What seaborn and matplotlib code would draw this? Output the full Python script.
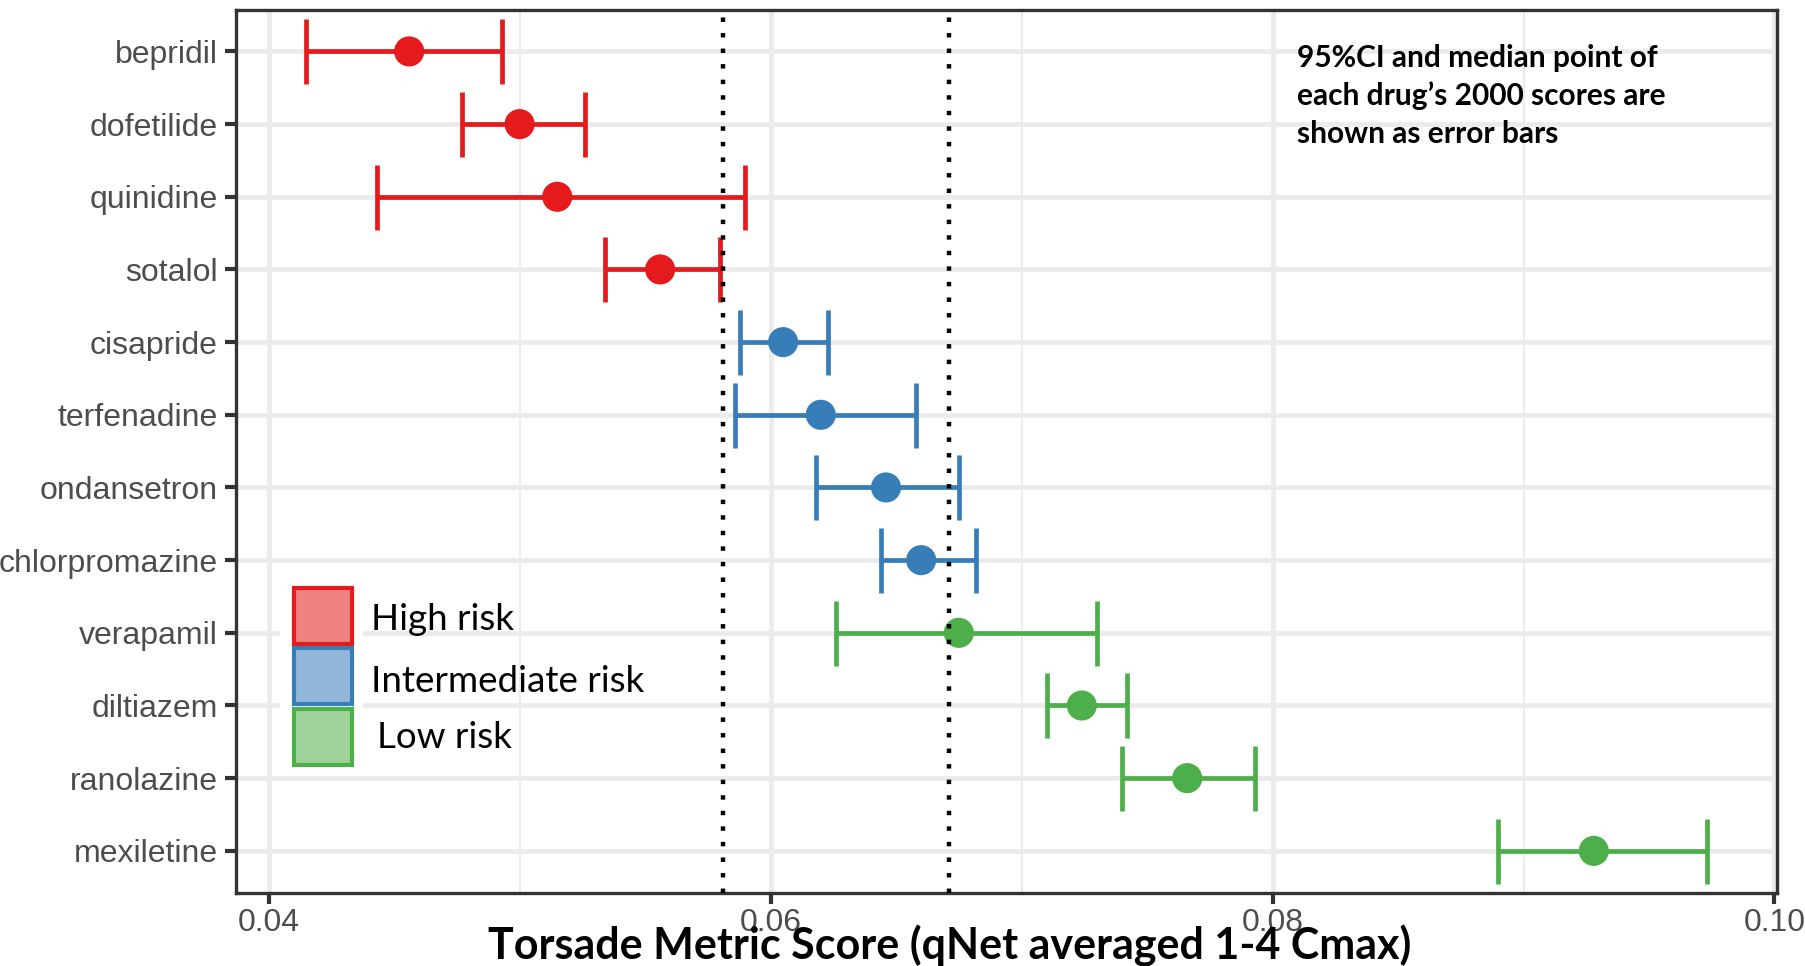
import numpy as np
import pandas as pd
import matplotlib
matplotlib.use("Agg")
import matplotlib.pyplot as plt
import seaborn as sns
from matplotlib.patches import Rectangle

# Data
drugs = ["bepridil", "dofetilide", "quinidine", "sotalol", "cisapride", "terfenadine",
         "ondansetron", "chlorpromazine", "verapamil", "diltiazem", "ranolazine", "mexiletine"]
risk = ["High"] * 4 + ["Intermediate"] * 4 + ["Low"] * 4
median = [0.0456, 0.0500, 0.0515, 0.0556, 0.0605, 0.0620, 0.0646, 0.0660, 0.0675, 0.0724, 0.0766, 0.0928]
ci_low = [0.0415, 0.0477, 0.0443, 0.0534, 0.0588, 0.0586, 0.0618, 0.0644, 0.0626, 0.0710, 0.0740, 0.0890]
ci_high = [0.0493, 0.0526, 0.0590, 0.0580, 0.0623, 0.0658, 0.0675, 0.0682, 0.0730, 0.0742, 0.0793, 0.0973]
thresholds = [0.0581, 0.0671]
x_ticks = [0.04, 0.06, 0.08, 0.10]
x_minor = [0.05, 0.07, 0.09]
risk_levels = ["High", "Intermediate", "Low"]
legend_labels = ["High risk", "Intermediate risk", "Low risk"]
risk_colors = {"High": "#E41A1C", "Intermediate": "#377EB8", "Low": "#4DAF4A"}
note_lines = ["95%CI and median point of", "each drug\u2019s 2000 scores are", "shown as error bars"]
xlabel = "Torsade Metric Score (qNet averaged 1-4 Cmax)"

df = pd.DataFrame({"drug": drugs, "risk": risk, "median": median,
                   "lo": ci_low, "hi": ci_high})
df["pos"] = np.arange(len(df))

sns.set_theme(style="white")
plt.rcParams["font.family"] = ["Liberation Sans", "DejaVu Sans"]

W, H = 1805, 966
def fx(x):
    return x / W
def fy(y):
    return 1 - y / H

fig = plt.figure(figsize=(W / 100, H / 100), dpi=100)
ax = fig.add_axes([fx(236), fy(893), fx(1777) - fx(236), fy(10) - fy(893)])

# error bars per risk group
for lvl in risk_levels:
    sub = df[df["risk"] == lvl]
    ax.errorbar(x=sub["median"], y=sub["pos"],
                xerr=[sub["median"] - sub["lo"], sub["hi"] - sub["median"]],
                fmt="none", ecolor=risk_colors[lvl], elinewidth=3.4,
                capsize=23.4, capthick=3.4, zorder=3)

sns.scatterplot(data=df, x="median", y="pos", hue="risk", palette=risk_colors,
                s=470, edgecolor="none", legend=False, zorder=4, ax=ax)

for t in thresholds:
    ax.axvline(t, color="black", lw=3.2, linestyle=(0, (1, 2.5)),
               dash_capstyle="butt", zorder=6)

# axes styling (ggplot theme_bw look)
ax.set_xlim(0.0387, 0.1001)
ax.set_ylim(len(drugs) - 1 + 0.58, -0.57)
ax.set_xticks(x_ticks)
ax.set_xticklabels([f"{v:.2f}" for v in x_ticks])
ax.set_xticks(x_minor, minor=True)
ax.set_yticks(df["pos"])
ax.set_yticklabels(drugs)
ax.set_xlabel("")
ax.set_ylabel("")
ax.set_axisbelow(True)
ax.grid(which="major", color="#EBEBEB", lw=3.4)
ax.grid(which="minor", axis="x", color="#EBEBEB", lw=1.3)
ax.tick_params(axis="both", which="major", length=8, width=3, color="#333333",
               labelcolor="#4D4D4D", labelsize=23, left=True, bottom=True)
ax.tick_params(axis="y", pad=5)
ax.tick_params(axis="x", pad=3)
ax.tick_params(which="minor", length=0)
for sp in ax.spines.values():
    sp.set_color("#333333")
    sp.set_linewidth(2.4)

# hand-made legend
fig.add_artist(Rectangle((fx(280), fy(772)), fx(363) - fx(280), fy(572) - fy(772),
                         transform=fig.transFigure, facecolor="white",
                         edgecolor="none", zorder=7))
box_tops = [588, 648, 709]
text_y = [620, 682, 737]
text_x = [371, 371, 377]
for lvl, lab, top, ty, tx in zip(risk_levels, legend_labels, box_tops, text_y, text_x):
    fig.add_artist(Rectangle((fx(294), fy(top + 56)), fx(352) - fx(294), fy(top) - fy(top + 56),
                             transform=fig.transFigure, facecolor=risk_colors[lvl],
                             alpha=0.55, edgecolor="none", zorder=8))
    fig.add_artist(Rectangle((fx(294), fy(top + 56)), fx(352) - fx(294), fy(top) - fy(top + 56),
                             transform=fig.transFigure, facecolor="none",
                             edgecolor=risk_colors[lvl], lw=3.0, zorder=9))
    fig.text(fx(tx), fy(ty), lab, family=["Lato", "DejaVu Sans"], fontsize=26.5,
             color="black", ha="left", va="center", zorder=10)

# note text
for i, line in enumerate(note_lines):
    fig.text(fx(1297), fy(58 + 38 * i), line, family=["Lato", "DejaVu Sans"],
             fontweight="bold", fontsize=21.5, color="black", ha="left", va="center")

fig.text(fx(950), fy(946), xlabel, family=["Lato", "DejaVu Sans"], fontweight="bold",
         fontsize=31, color="black", ha="center", va="center")

fig.savefig("out.png", dpi=100)
